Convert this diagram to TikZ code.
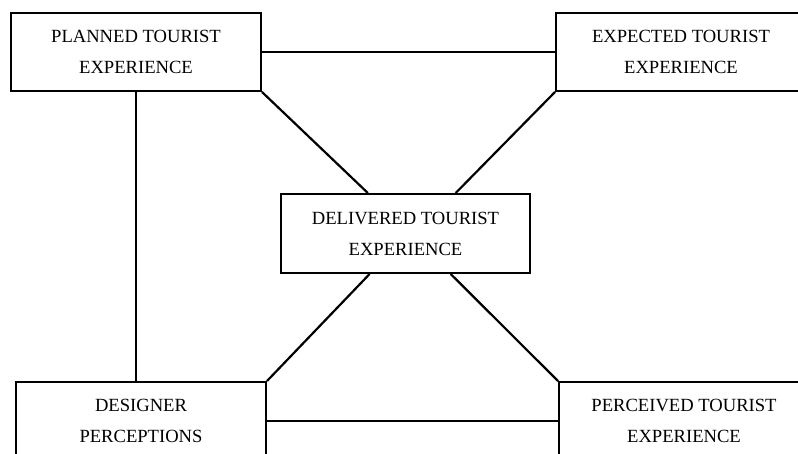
\documentclass[tikz,border=0pt]{standalone}
\usepackage{fontspec}
\setmainfont{Liberation Serif}
\usetikzlibrary{calc}
\begin{document}
\begin{tikzpicture}[x=1pt,y=-1pt,
  boxnode/.style={draw=black, line width=2pt, fill=white, minimum width=250pt, minimum height=78pt,
    inner sep=0pt, align=center, font=\fontsize{18.6}{31}\selectfont},
  link/.style={line width=2.2pt}]
\useasboundingbox (0,0) rectangle (798,454);
\clip (0,0) rectangle (798,454);
\node[boxnode] (planned) at (136,52) {PLANNED TOURIST\\EXPERIENCE};
\node[boxnode] (expected) at (681,52) {EXPECTED TOURIST\\EXPERIENCE};
\node[boxnode, minimum width=249pt, minimum height=79pt] (delivered) at (405.5,233.5) {DELIVERED TOURIST\\EXPERIENCE};
\node[boxnode] (designer) at (141,421) {DESIGNER\\PERCEPTIONS};
\node[boxnode] (perceived) at (684,421) {PERCEIVED TOURIST\\EXPERIENCE};
\begin{scope}[on background layer/.style={}]
\end{scope}
\draw[link] (planned.east) -- (expected.west);
\draw[link] (designer.east) -- (perceived.west);
\draw[link] (planned.south) -- (planned.south |- designer.north);
\draw[link] ($(expected.south)+(1,0)$) -- ($(expected.south)+(1,0)$ |- perceived.north);
\draw[link] (planned.south east) -- ($(delivered.north west)!0.35!(delivered.north east)$);
\draw[link] (expected.south west) -- ($(delivered.north west)!0.70!(delivered.north east)$);
\draw[link] (designer.north east) -- ($(delivered.south west)!0.357!(delivered.south east)$);
\draw[link] (perceived.north west) -- ($(delivered.south west)!0.68!(delivered.south east)$);
\end{tikzpicture}
\end{document}
